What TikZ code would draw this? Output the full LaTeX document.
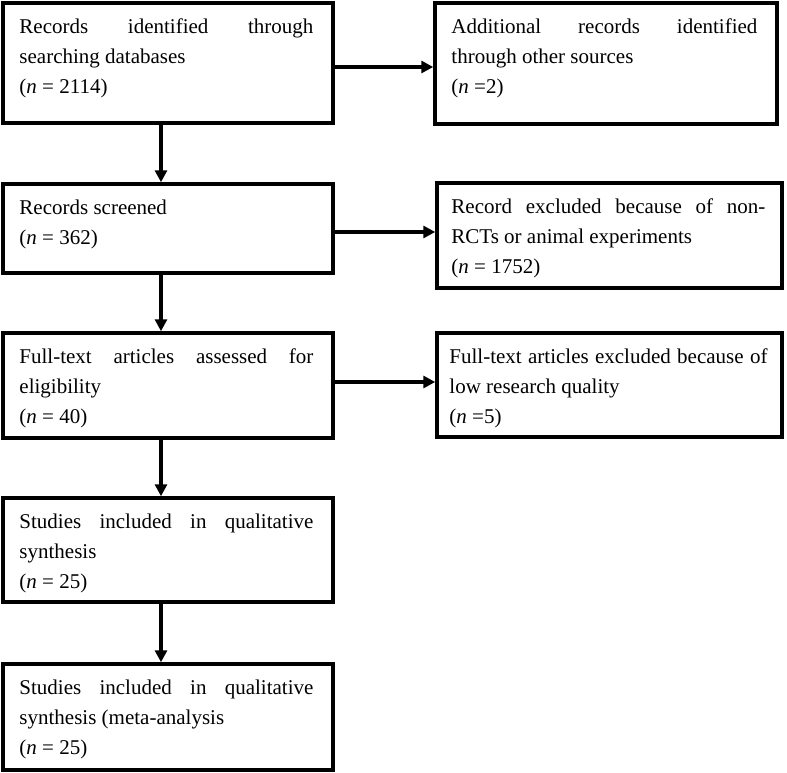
\documentclass[tikz,border=0pt]{standalone}
\usepackage{fontspec}
\setmainfont{Liberation Serif}
\usetikzlibrary{arrows.meta}
\hbadness=10000
\tikzset{
  box/.style={draw=black, line width=3.5pt, rectangle, inner sep=0pt, fill=white},
  txt/.style={anchor=north west, inner sep=0pt, align=justify, font=\fontsize{21}{30}\selectfont},
  arr/.style={line width=3.5pt, -{Triangle[length=12pt,width=12pt]}}
}
\begin{document}
\begin{tikzpicture}[x=1pt,y=-1pt]
\useasboundingbox (0,0) rectangle (787,773);
% boxes
\node[box, minimum width=330pt, minimum height=120pt] (b1) at (168,63) {};
\node[box, minimum width=342pt, minimum height=121pt] (b2) at (606,63.5) {};
\node[box, minimum width=330pt, minimum height=89pt] (b3) at (168,228.5) {};
\node[box, minimum width=345pt, minimum height=105pt] (b4) at (609.5,235.5) {};
\node[box, minimum width=330pt, minimum height=105pt] (b5) at (168,385.5) {};
\node[box, minimum width=345pt, minimum height=104pt] (b6) at (609.5,385) {};
\node[box, minimum width=330pt, minimum height=104pt] (b7) at (168,550) {};
\node[box, minimum width=330pt, minimum height=106pt] (b8) at (168,717) {};
% texts
\node[txt, text width=294pt] (t1) at ([shift={(18,11)}]b1.north west)
  {\strut Records identified through\linebreak searching databases\\(\textit{n} = 2114)};
\node[txt, text width=306pt] (t2) at ([shift={(18,11)}]b2.north west)
  {\strut Additional records identified\linebreak through other sources\\(\textit{n} =2)};
\node[txt, text width=294pt] (t3) at ([shift={(18,11)}]b3.north west)
  {\strut Records screened\\(\textit{n} = 362)};
\node[txt, text width=314pt] (t4) at ([shift={(16,11)}]b4.north west)
  {\strut Record excluded because of non-\linebreak RCTs or animal experiments\\(\textit{n} = 1752)};
\node[txt, text width=294pt] (t5) at ([shift={(18,11)}]b5.north west)
  {\strut Full-text articles assessed for\linebreak eligibility\\(\textit{n} = 40)};
\node[txt, text width=318pt] (t6) at ([shift={(14,11)}]b6.north west)
  {\strut Full-text articles excluded because of\linebreak low research quality\\(\textit{n} =5)};
\node[txt, text width=294pt] (t7) at ([shift={(18,11)}]b7.north west)
  {\strut Studies included in qualitative\linebreak synthesis\\(\textit{n} = 25)};
\node[txt, text width=294pt] (t8) at ([shift={(18,11)}]b8.north west)
  {\strut Studies included in qualitative\linebreak synthesis (meta-analysis\\(\textit{n} = 25)};
% arrows
\draw[arr] ([yshift=-4pt]b1.east) -- ([yshift=-4pt]b1.east -| b2.west);
\draw[arr] ([yshift=-3.5pt]b3.east) -- ([yshift=-3.5pt]b3.east -| b4.west);
\draw[arr] ([yshift=3.5pt]b5.east) -- ([yshift=3.5pt]b5.east -| b6.west);
\draw[arr] ([xshift=-7pt]b1.south) -- ([xshift=-7pt]b3.north);
\draw[arr] ([xshift=-7pt]b3.south) -- ([xshift=-7pt]b5.north);
\draw[arr] ([xshift=-7pt]b5.south) -- ([xshift=-7pt]b7.north);
\draw[arr] ([xshift=-7pt]b7.south) -- ([xshift=-7pt]b8.north);
\end{tikzpicture}
\end{document}
